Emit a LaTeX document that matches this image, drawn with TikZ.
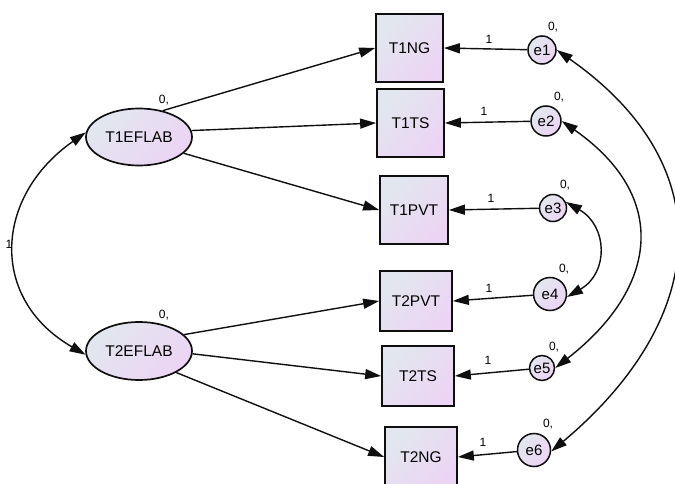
\documentclass[tikz,border=0pt]{standalone}
\usepackage{fontspec}
\setmainfont{Liberation Sans}
\usetikzlibrary{arrows.meta,shapes.geometric}
\definecolor{fillA}{RGB}{226,231,239}
\definecolor{fillB}{RGB}{236,212,244}
\definecolor{lineC}{RGB}{15,15,15}
\begin{document}
\begin{tikzpicture}[x=1pt,y=1pt,
  shd/.style={top color=fillA,bottom color=fillB,shading angle=45},
  obs/.style={draw=lineC,line width=1.7pt,rectangle,inner sep=0pt,shd,font=\fontsize{15.5}{17}\selectfont},
  lat/.style={draw=lineC,line width=1.7pt,ellipse,inner sep=0pt,minimum width=106pt,minimum height=57pt,shd,font=\fontsize{15.5}{17}\selectfont},
  err/.style={draw=lineC,line width=1.5pt,circle,inner sep=0pt,shd,font=\fontsize{15}{17}\selectfont},
  arr/.style={draw=lineC,line width=1.4pt,-{Triangle[length=16pt,width=10pt]}},
  arrb/.style={draw=lineC,line width=1.4pt,{Triangle[length=16pt,width=10pt]}-{Triangle[length=16pt,width=10pt]}},
  lbl/.style={inner sep=0pt,font=\fontsize{12}{14}\selectfont}]
\useasboundingbox (0,0) rectangle (675,-484);
\begin{scope}
\clip (0,0) rectangle (675,-484);
% latent variables
\node[lat] (L1) at (139,-137) {T1EFLAB};
\node[lat,minimum height=58pt] (L2) at (139,-351) {T2EFLAB};
% observed variables
\node[obs,minimum width=67pt,minimum height=68pt] (T1NG) at (409.5,-48) {T1NG};
\node[obs,minimum width=67pt,minimum height=68pt] (T1TS) at (410.5,-123) {T1TS};
\node[obs,minimum width=68pt,minimum height=68pt] (T1PVT) at (414,-210) {T1PVT};
\node[obs,minimum width=72pt,minimum height=60pt] (T2PVT) at (416,-301) {T2PVT};
\node[obs,minimum width=72pt,minimum height=60pt] (T2TS) at (418,-376) {T2TS};
\node[obs,minimum width=72pt,minimum height=60pt] (T2NG) at (421,-457) {T2NG};
% errors
\node[err,minimum size=28pt] (e1) at (542,-50) {e1};
\node[err,minimum size=30pt] (e2) at (546,-121) {e2};
\node[err,minimum size=27pt] (e3) at (553,-208) {e3};
\node[err,minimum size=33pt] (e4) at (550,-294) {e4};
\node[err,minimum size=25pt] (e5) at (542,-368) {e5};
\node[err,minimum size=33pt] (e6) at (534,-450) {e6};
% regression paths
\draw[arr] (L1.48) -- (T1NG.west);
\draw[arr] (L1.7) -- (T1TS.west);
\draw[arr] (L1.-20) -- (T1PVT.west);
\draw[arr] (L2.20) -- (T2PVT.west);
\draw[arr] (L2.-3) -- (T2TS.west);
\draw[arr] (L2.-30) -- (T2NG.west);
\draw[arr] (e1) -- (T1NG.east);
\draw[arr] (e2) -- (T1TS.east);
\draw[arr] (e3) -- (T1PVT.east);
\draw[arr] (e4) -- (T2PVT.east);
\draw[arr] (e5) -- (T2TS.east);
\draw[arr] (e6) -- (T2NG.east);
% covariances
\draw[arrb] (L1.175) to[out=215,in=150,looseness=1.29] (L2.184);
\draw[arrb] (e1.east) to[out=-35,in=40,looseness=1.3] (e6.-5);
\draw[arrb] (e2.east) to[out=-35,in=38,looseness=1.36] (e5.east);
\draw[arrb] (e3.25) to[out=-30,in=30,looseness=1.3] (e4.-10);
% labels
\node[lbl] (c0) at (9,-244) {1};
\node[lbl] (c1) at (489,-39) {1};
\node[lbl] (c2) at (484,-111) {1};
\node[lbl] (c3) at (491,-198) {1};
\node[lbl] (c4) at (489,-288) {1};
\node[lbl] (c5) at (488,-360) {1};
\node[lbl] (c6) at (483,-442) {1};
\node[lbl,anchor=base] (m1) at (553,-31) {0,};
\node[lbl,anchor=base] (m2) at (559,-101) {0,};
\node[lbl,anchor=base] (m3) at (565,-189) {0,};
\node[lbl,anchor=base] (m4) at (564,-272) {0,};
\node[lbl,anchor=base] (m5) at (554,-350) {0,};
\node[lbl,anchor=base] (m6) at (548,-427) {0,};
\node[lbl,anchor=base] (mL1) at (164,-104) {0,};
\node[lbl,anchor=base] (mL2) at (164,-318) {0,};
\end{scope}
\end{tikzpicture}
\end{document}
